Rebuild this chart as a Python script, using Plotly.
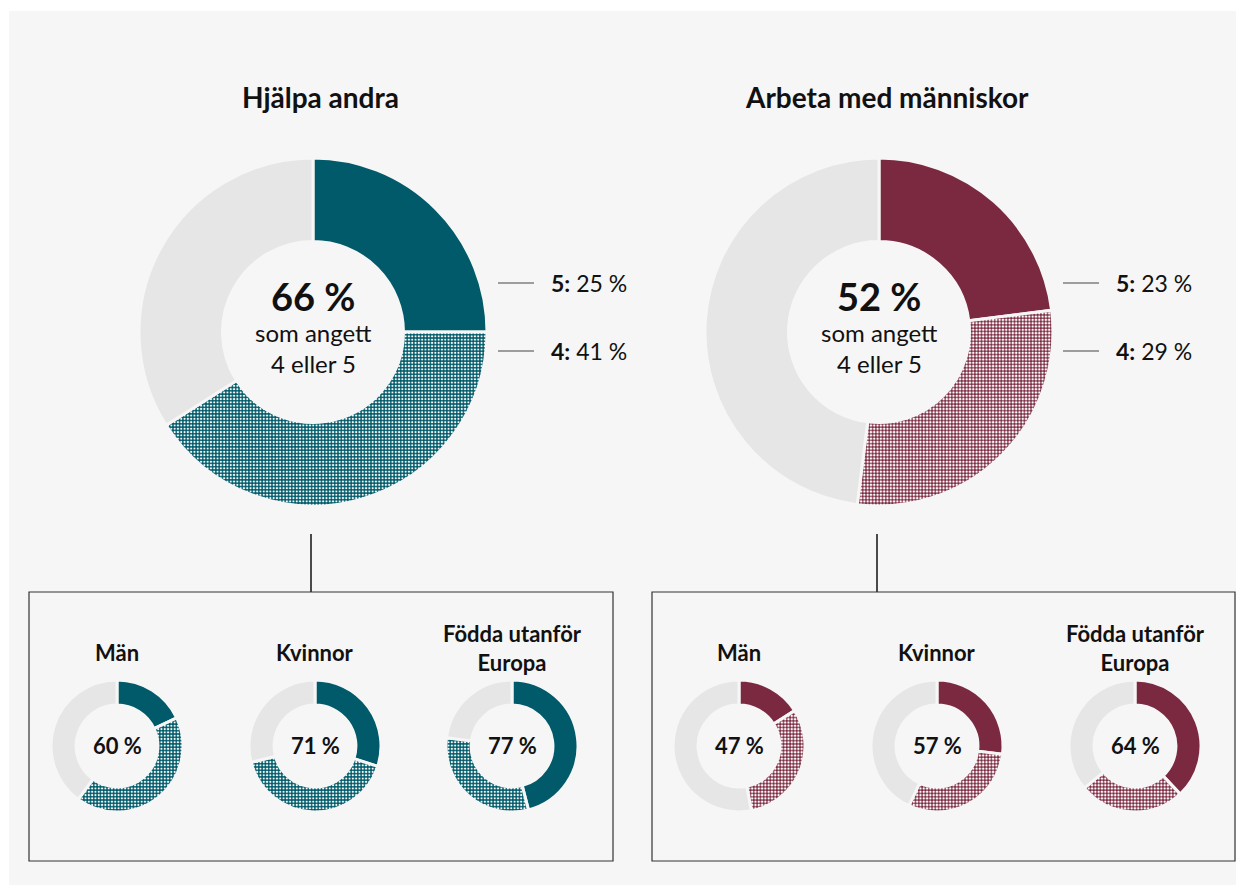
import plotly.graph_objects as go

# data
main_titles = ["Hjälpa andra", "Arbeta med människor"]
main_five = [25, 23]
main_four = [41, 29]
main_total = [66, 52]

group_names = ["Män", "Kvinnor", "Födda utanför<br>Europa"]
help_five = [18, 30, 46]
help_four = [42, 41, 31]
help_total = [60, 71, 77]
work_five = [16, 27, 38]
work_four = [31, 30, 26]
work_total = [47, 57, 64]

TEAL = "#005a69"
MAROON = "#7a2940"
REST = "#e6e6e6"
BG = "#f6f6f6"
FONT = "Lato"

W, H = 1228, 877
OFF = 8  # body margin of the page


def fx(x):
    return (x - OFF) / W


def fy(y):
    return 1 - (y - OFF) / H


def donut(fig, cx, cy, r, hole, five, four, color, line_w, solid):
    rest = 100 - five - four
    fig.add_trace(go.Pie(
        values=[five, four, rest],
        labels=["5", "4", "övriga"],
        sort=False, direction="clockwise", rotation=0,
        hole=hole, textinfo="none", hoverinfo="skip", showlegend=False,
        domain=dict(x=[fx(cx - r), fx(cx + r)], y=[fy(cy + r), fy(cy - r)]),
        marker=dict(
            colors=[color, color, REST],
            line=dict(color=BG, width=line_w),
            pattern=dict(shape=["", ".", ""], fgcolor="white", bgcolor=[color, color, REST],
                         size=3.3, solidity=solid),
        ),
    ))


fig = go.Figure()

main_cx = [313, 879]
colors = [TEAL, MAROON]
solids = [0.35, 0.45]
for i in range(2):
    donut(fig, main_cx[i], 332, 174, 0.52, main_five[i], main_four[i], colors[i], 3, solids[i])

small_cx = [[117, 315, 512], [739, 937, 1135]]
fives = [help_five, work_five]
fours = [help_four, work_four]
totals = [help_total, work_total]
for i in range(2):
    for j in range(3):
        donut(fig, small_cx[i][j], 746, 66, 0.62, fives[i][j], fours[i][j], colors[i], 3, solids[i])

ann = []


def txt(x, y, s, size, bold=False, xanchor="center"):
    ann.append(dict(
        x=fx(x), y=fy(y), xref="paper", yref="paper", showarrow=False,
        text=f"<b>{s}</b>" if bold else s, xanchor=xanchor, yanchor="middle",
        font=dict(family=FONT, size=size, color="#111111"),
    ))


title_cx = [320, 887]
lbl_x = [549, 1114]
line_x = [(498, 534), (1063, 1099)]
shapes = [
    dict(type="rect", xref="paper", yref="paper", x0=fx(9), x1=1.01, y0=-0.01, y1=fy(11),
         fillcolor=BG, line=dict(width=0), layer="below"),
]
for i in range(2):
    txt(title_cx[i], 97, main_titles[i], 28, bold=True)
    txt(main_cx[i], 296, f"{main_total[i]} %", 38, bold=True)
    txt(main_cx[i], 332, "som angett", 24)
    txt(main_cx[i], 363, "4 eller 5", 24)
    txt(lbl_x[i], 283, f"<b>5:</b> {main_five[i]} %", 23, xanchor="left")
    txt(lbl_x[i], 351, f"<b>4:</b> {main_four[i]} %", 23, xanchor="left")
    for yy in (283, 351):
        shapes.append(dict(type="line", xref="paper", yref="paper",
                           x0=fx(line_x[i][0]), x1=fx(line_x[i][1]), y0=fy(yy), y1=fy(yy),
                           line=dict(color="#444444", width=1)))
    # connector and box
    shapes.append(dict(type="line", xref="paper", yref="paper",
                       x0=fx(main_cx[i] - 2), x1=fx(main_cx[i] - 2), y0=fy(534), y1=fy(592),
                       line=dict(color="#111111", width=1.5)))
    bx = [(29, 613), (652, 1235)][i]
    shapes.append(dict(type="rect", xref="paper", yref="paper",
                       x0=fx(bx[0]), x1=fx(bx[1]), y0=fy(861), y1=fy(592),
                       line=dict(color="#333333", width=1.2)))
    for j in range(3):
        name = group_names[j]
        ty = 648 if "<br>" in name else 652
        ann.append(dict(
            x=fx(small_cx[i][j]), y=fy(ty), xref="paper", yref="paper", showarrow=False,
            text=f"<b>{name}</b>", xanchor="center", yanchor="middle",
            font=dict(family=FONT, size=22, color="#111111"),
        ))
        txt(small_cx[i][j], 745, f"{totals[i][j]} %", 22, bold=True)

fig.update_layout(
    width=W, height=H,
    margin=dict(l=0, r=0, t=0, b=0),
    paper_bgcolor="white", plot_bgcolor="white",
    annotations=ann, shapes=shapes,
    font=dict(family=FONT),
)
fig.write_html("out.html")
